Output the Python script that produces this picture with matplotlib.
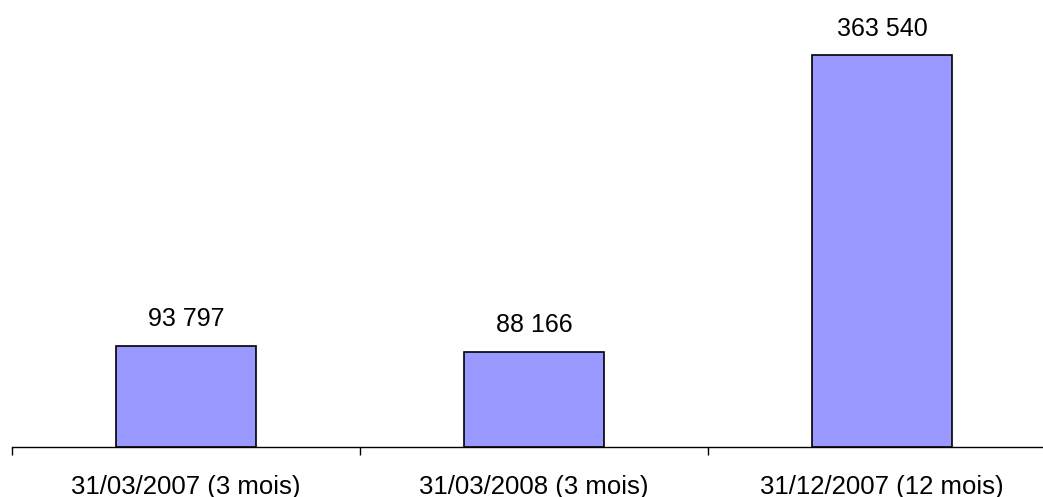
import matplotlib.pyplot as plt

categories = ["31/03/2007 (3 mois)", "31/03/2008 (3 mois)", "31/12/2007 (12 mois)"]
values = [93797, 88166, 363540]
value_labels = ["93 797", "88 166", "363 540"]

plt.rcParams['font.family'] = ['Liberation Sans', 'DejaVu Sans']

W, H = 1043, 497
fig = plt.figure(figsize=(W / 100, H / 100), dpi=100)
# axis runs from x=12 to past the right edge, baseline at y=447
ax = fig.add_axes([12 / W, 50 / H, 1044 / W, 447 / H])

x = list(range(len(categories)))
ax.bar(x, values, width=0.405, color="#9999FF", edgecolor="black", linewidth=1.2, zorder=3)

for xi, v, lab in zip(x, values, value_labels):
    ax.annotate(lab, (xi, v), xytext=(0, 14), textcoords="offset points",
                ha="center", va="baseline", fontsize=18)

ax.set_xlim(-0.5, 2.5)
ax.set_ylim(0, 414500)
for s in ["top", "right", "left"]:
    ax.spines[s].set_visible(False)
ax.spines["bottom"].set_linewidth(1.0)
ax.set_yticks([])
ax.set_xticks([-0.5, 0.5, 1.5, 2.5])
ax.set_xticklabels([])
ax.set_xticks(x, minor=True)
ax.set_xticklabels(categories, minor=True, fontsize=18.5)
ax.tick_params(axis="x", which="major", direction="out", length=6, width=1.0, color="black")
ax.tick_params(axis="x", which="minor", length=0, pad=20)

fig.savefig("out.png", dpi=100)
